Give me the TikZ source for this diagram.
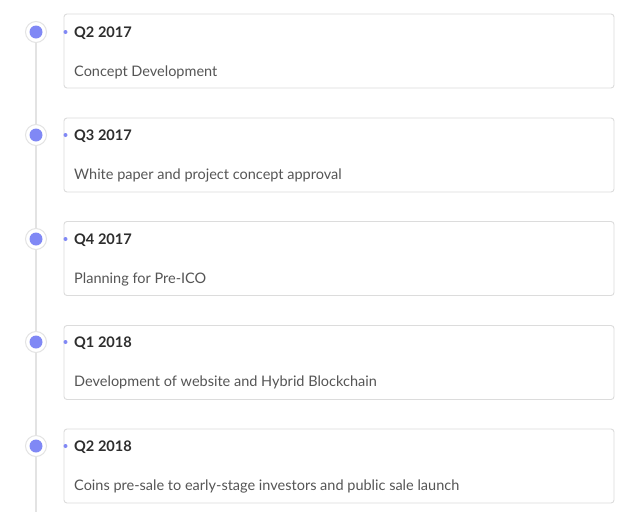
\documentclass[tikz,border=0pt]{standalone}
\usepackage{fontspec}
\setmainfont{Lato}
\usepackage{xcolor}
\usepackage{tikz}
\usetikzlibrary{positioning}
\definecolor{dotblue}{HTML}{8088F5}
\definecolor{railgray}{HTML}{E3E3E3}
\definecolor{boxgray}{HTML}{DCDCDC}
\definecolor{titlegray}{HTML}{2E2E2E}
\definecolor{textgray}{HTML}{555555}

\begin{document}
\begin{tikzpicture}[x=1pt,y=-1pt]
\tikzstyle{phasebox}=[rectangle,draw=boxgray,line width=0.9pt,rounded corners=3pt,minimum width=550pt,minimum height=74pt,inner sep=0pt];
\tikzstyle{ring}=[circle,draw=railgray,line width=1pt,fill=white,minimum size=21pt,inner sep=0pt];
\tikzstyle{bullet}=[circle,fill=dotblue,minimum size=13pt,inner sep=0pt];
\tikzstyle{pin}=[circle,fill=dotblue,minimum size=4pt,inner sep=0pt];
\tikzstyle{quarter}=[anchor=base west,inner sep=0pt,font=\fontsize{14.6}{16}\selectfont\bfseries,text=titlegray];
\tikzstyle{milestone}=[anchor=base west,inner sep=0pt,font=\fontsize{14.5}{16}\selectfont,text=textgray];
\useasboundingbox[fill=white] (0,0) rectangle (640,512);
\coordinate (railend) at (36,512);
% rail
\draw[railgray,line width=1.6pt] (36,32) -- (railend);
% Q2 2017
\node[phasebox](b1) at (339,51){};
\node[ring](r1) at (36,32){};
\node[bullet](c1) at (r1){};
\node[pin](p1) at (65.5,32){};
\node[quarter](t1) at (74,37){Q2 2017};
\node[milestone](m1) at (74,76){Concept Development};
% Q3 2017
\node[phasebox](b2) at (339,155){};
\node[ring](r2) at (36,135){};
\node[bullet](c2) at (r2){};
\node[pin](p2) at (65.5,135){};
\node[quarter](t2) at (74,140){Q3 2017};
\node[milestone](m2) at (74,179){White paper and project concept approval};
% Q4 2017
\node[phasebox](b3) at (339,258.5){};
\node[ring](r3) at (36,239){};
\node[bullet](c3) at (r3){};
\node[pin](p3) at (65.5,239){};
\node[quarter](t3) at (74,244){Q4 2017};
\node[milestone](m3) at (74,283){Planning for Pre-ICO};
% Q1 2018
\node[phasebox](b4) at (339,362.5){};
\node[ring](r4) at (36,342){};
\node[bullet](c4) at (r4){};
\node[pin](p4) at (65.5,342){};
\node[quarter](t4) at (74,347){Q1 2018};
\node[milestone](m4) at (74,386){Development of website and Hybrid Blockchain};
% Q2 2018
\node[phasebox](b5) at (339,466){};
\node[ring](r5) at (36,446){};
\node[bullet](c5) at (r5){};
\node[pin](p5) at (65.5,446){};
\node[quarter](t5) at (74,451){Q2 2018};
\node[milestone](m5) at (74,490){Coins pre-sale to early-stage investors and public sale launch};
\end{tikzpicture}
\end{document}
